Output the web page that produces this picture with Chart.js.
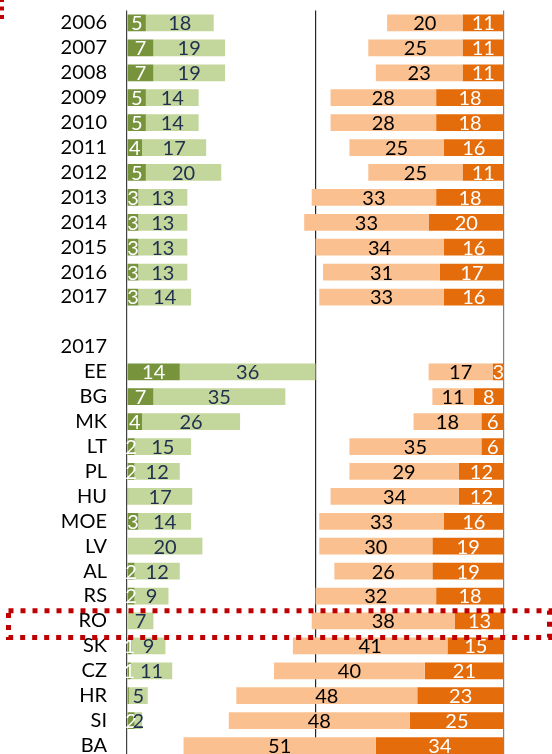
<!DOCTYPE html>
<html>
<head>
<meta charset="utf-8">
<script src="https://cdn.jsdelivr.net/npm/chart.js@4.4.1/dist/chart.umd.min.js"></script>
<style>
  html, body { margin: 0; padding: 0; background: #fff; overflow: hidden; }
  #chart { display: block; }
</style>
</head>
<body>
<canvas id="chart" width="552" height="758"></canvas>
<script>
// rows top to bottom; '' is the spacer row
const categories = ['2006', '2007', '2008', '2009', '2010', '2011', '2012', '2013', '2014', '2015', '2016', '2017',
    '', '2017', 'EE', 'BG', 'MK', 'LT', 'PL', 'HU', 'MOE', 'LV', 'AL', 'RS', 'RO', 'SK', 'CZ', 'HR', 'SI', 'BA'];

const darkGreen   = [5, 7, 7, 5, 5, 4, 5, 3, 3, 3, 3, 3, null, null, 14, 7, 4, 2, 2, 0.3, 3, 0, 2, 2, 0, 1.2, 1, 0.5, 2, 0];
const lightGreen  = [18, 19, 19, 14, 14, 17, 20, 13, 13, 13, 13, 14, null, null, 36, 35, 26, 15, 12, 17, 14, 20, 12, 9, 7, 9, 11, 5, 2, 0];
const lightOrange = [20, 25, 23, 28, 28, 25, 25, 33, 33, 34, 31, 33, null, null, 17, 11, 18, 35, 29, 34, 33, 30, 26, 32, 38, 41, 40, 48, 48, 51];
const darkOrange  = [11, 11, 11, 18, 18, 16, 11, 18, 20, 16, 17, 16, null, null, 3, 8, 6, 6, 12, 12, 16, 19, 19, 18, 13, 15, 21, 23, 25, 34];

const xMax = 100;
const highlightRow = 'RO';

const FONT = 'Lato, "Open Sans", sans-serif';

// green grows from the left axis, orange is anchored at the right edge
const toFloat = (fn) => categories.map((_, i) => fn(i));
const sets = [
    { label: 'dark green', values: darkGreen, color: '#77933C', text: '#ffffff',
      data: toFloat(i => darkGreen[i] == null ? null : [0, darkGreen[i]]) },
    { label: 'light green', values: lightGreen, color: '#C3D69B', text: '#1f2f4f',
      data: toFloat(i => lightGreen[i] == null ? null : [darkGreen[i], darkGreen[i] + lightGreen[i]]) },
    { label: 'light orange', values: lightOrange, color: '#FAC090', text: '#000000',
      data: toFloat(i => lightOrange[i] == null ? null : [xMax - darkOrange[i] - lightOrange[i], xMax - darkOrange[i]]) },
    { label: 'dark orange', values: darkOrange, color: '#E46C0A', text: '#ffffff',
      data: toFloat(i => darkOrange[i] == null ? null : [xMax - darkOrange[i], xMax]) },
];

const barLabels = {
    id: 'barLabels',
    afterDatasetsDraw(chart) {
        const c = chart.ctx;
        c.save();
        c.font = '20px ' + FONT;
        c.textAlign = 'center';
        c.textBaseline = 'middle';
        chart.data.datasets.forEach((ds, di) => {
            const src = sets[di];
            chart.getDatasetMeta(di).data.forEach((bar, i) => {
                const v = src.values[i];
                if (v == null || v < 1) return;
                c.fillStyle = src.text;
                c.fillText(String(Math.round(v)), (bar.x + bar.base) / 2, bar.y + 1);
            });
        });
        c.restore();
    }
};

const redFrames = {
    id: 'redFrames',
    afterDraw(chart) {
        const c = chart.ctx;
        const y = chart.scales.y;
        const row = categories.indexOf(highlightRow);
        const yc = y.getPixelForValue(row);
        const h = chart.chartArea.height / categories.length;
        c.save();
        c.strokeStyle = '#C00000';
        c.lineWidth = 5;
        c.setLineDash([5, 7]);
        c.strokeRect(8.5, yc - 0.41 * h, chart.width - 11, 0.41 * h + 0.66 * h);
        // piece of another frame, cut off at the top-left
        c.lineWidth = 4;
        c.setLineDash([4, 4.5]);
        c.beginPath(); c.moveTo(2, -2); c.lineTo(2, 19); c.lineTo(-10, 19); c.stroke();
        c.restore();
    }
};

new Chart(document.getElementById('chart'), {
    type: 'bar',
    data: {
        labels: categories,
        datasets: sets.map(s => ({
            label: s.label,
            data: s.data,
            backgroundColor: s.color,
            borderWidth: 0,
            grouped: false,
            categoryPercentage: 1,
            barPercentage: 0.67,
        }))
    },
    options: {
        indexAxis: 'y',
        responsive: false,
        animation: false,
        layout: { padding: { top: 10.5, right: 48, bottom: 0, left: 0 } },
        plugins: {
            legend: { display: false },
            tooltip: { enabled: false }
        },
        scales: {
            x: {
                min: 0,
                max: xMax,
                z: 1,
                ticks: { display: false, stepSize: 50 },
                border: { display: false },
                grid: {
                    drawTicks: false,
                    lineWidth: 1.2,
                    color: ctx => ctx.tick.value === 0 ? '#404040' : ctx.tick.value === 50 ? '#262626' : '#808080',
                },
                afterFit(scale) { scale.height = 0; scale.paddingLeft = 0; scale.paddingRight = 0; }
            },
            y: {
                border: { display: false },
                grid: { display: false, drawTicks: false },
                ticks: { color: '#000', padding: 20, autoSkip: false, font: { family: FONT, size: 20 } },
                afterFit(scale) { scale.width = 127; scale.paddingTop = 0; scale.paddingBottom = 0; }
            }
        }
    },
    plugins: [barLabels, redFrames]
});
</script>
</body>
</html>
